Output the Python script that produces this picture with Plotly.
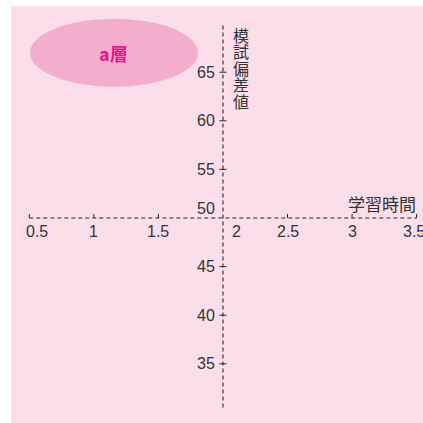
import plotly.graph_objects as go

# ---- data ----
x_ticks = [0.5, 1, 1.5, 2, 2.5, 3, 3.5]
x_tick_labels = ["0.5", "1", "1.5", "2", "2.5", "3", "3.5"]
y_ticks = [35, 40, 45, 50, 55, 60, 65]
y_tick_labels = ["35", "40", "45", "50", "55", "60", "65"]
x_axis_extent = [0.5, 3.5]
y_axis_extent = [30.5, 70]
x_cross = 2
y_cross = 50
x_title = "学習時間"
y_title = "模試偏差値"
region_label = "a層"
region_x = [0.505, 1.807]
region_y = [63.5, 70.5]

# ---- style ----
INK = "#262626"
TXT = "#333333"
BG = "#fcdeea"
ELLIPSE = "#f3aecd"
MAGENTA = "#e8168a"
NUM_FONT = "Liberation Sans, Arial, sans-serif"
CJK_FONT = "Noto Sans CJK JP, sans-serif"
DASH = "4px,3px"

fig = go.Figure()

# axes as dashed lines
fig.add_trace(go.Scatter(x=x_axis_extent, y=[y_cross, y_cross], mode="lines",
                         line=dict(color=INK, width=1.1, dash=DASH),
                         hoverinfo="skip", showlegend=False))
fig.add_trace(go.Scatter(x=[x_cross, x_cross], y=y_axis_extent, mode="lines",
                         line=dict(color=INK, width=1.1, dash=DASH),
                         hoverinfo="skip", showlegend=False))

shapes = []
# region ellipse
shapes.append(dict(type="circle", xref="x", yref="y",
                   x0=region_x[0], x1=region_x[1], y0=region_y[0], y1=region_y[1],
                   fillcolor=ELLIPSE, line=dict(width=0), layer="below"))
# x ticks (upward)
for t in x_ticks:
    if t == x_cross:
        continue
    shapes.append(dict(type="line", xref="x", yref="y", ysizemode="pixel",
                       yanchor=y_cross, x0=t, x1=t, y0=0, y1=4,
                       line=dict(color=INK, width=1)))
# y ticks (crossing)
for t in y_ticks:
    if t == y_cross:
        continue
    shapes.append(dict(type="line", xref="x", yref="y", xsizemode="pixel",
                       xanchor=x_cross, x0=-3.5, x1=3.5, y0=t, y1=t,
                       line=dict(color=INK, width=1)))

annotations = []
x_label_shift = {0.5: 8, 2: 14, 3.5: -3}
for t, lab in zip(x_ticks, x_tick_labels):
    annotations.append(dict(x=t, y=y_cross, xref="x", yref="y", text=lab,
                            showarrow=False, xanchor="center", yanchor="middle",
                            xshift=x_label_shift.get(t, 0), yshift=-13.5,
                            font=dict(family=NUM_FONT, size=16, color=TXT)))
y_label_shift = {50: 10}
for t, lab in zip(y_ticks, y_tick_labels):
    annotations.append(dict(x=x_cross, y=t, xref="x", yref="y", text=lab,
                            showarrow=False, xanchor="right", yanchor="middle",
                            xshift=-6, yshift=y_label_shift.get(t, 0),
                            font=dict(family=NUM_FONT, size=16, color=TXT)))
# x axis title
annotations.append(dict(x=x_axis_extent[1], y=y_cross, xref="x", yref="y",
                        text=x_title, showarrow=False, xanchor="right", yanchor="middle",
                        xshift=1, yshift=15,
                        font=dict(family=CJK_FONT, size=17, color=TXT)))
# y axis title, vertical (one character per line)
for i, ch in enumerate(y_title):
    annotations.append(dict(x=x_cross, y=y_axis_extent[1], xref="x", yref="y",
                            text=ch, showarrow=False, xanchor="left", yanchor="top",
                            xshift=9, yshift=2 - i * 16.6, borderpad=0,
                            font=dict(family=CJK_FONT, size=16, color=TXT)))
# region label
annotations.append(dict(x=sum(region_x) / 2, y=sum(region_y) / 2, xref="x", yref="y",
                        text="<b>" + region_label + "</b>", showarrow=False,
                        xanchor="center", yanchor="middle", yshift=0,
                        font=dict(family=CJK_FONT, size=18, color=MAGENTA)))

fig.update_layout(
    width=423, height=423, autosize=False,
    margin=dict(l=11, r=0, t=6, b=0),
    paper_bgcolor="white", plot_bgcolor=BG,
    shapes=shapes, annotations=annotations,
    xaxis=dict(range=[0.3582, 3.5496], visible=False, fixedrange=True),
    yaxis=dict(range=[28.91, 71.81], visible=False, fixedrange=True),
    showlegend=False,
)

fig.write_html("out.html", config={"displayModeBar": False},
               post_script="document.body.style.margin='0';document.body.style.overflow='hidden';")
